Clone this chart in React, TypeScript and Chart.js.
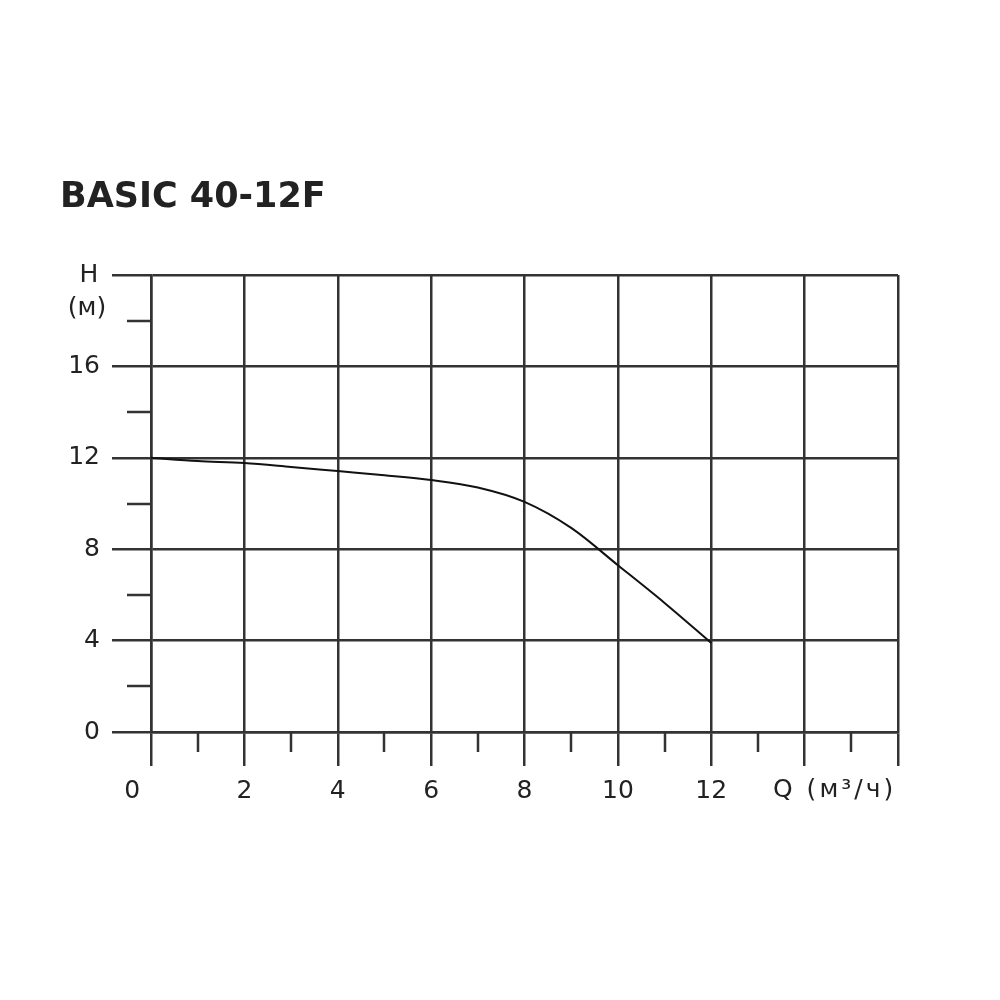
import React, { useEffect, useRef } from "react";
import { Chart, registerables } from "chart.js";

Chart.register(...registerables);

const titleText = "BASIC 40-12F";
const flowQ = [0, 1, 2, 3, 4, 5, 6, 7, 8, 9, 10, 11, 12];
const headH = [12.0, 11.86, 11.77, 11.6, 11.42, 11.24, 11.03, 10.7, 10.07, 8.93, 7.3, 5.65, 3.9];
const xLabelValues = [0, 2, 4, 6, 8, 10, 12];
const yLabelValues = [0, 4, 8, 12, 16];
const xMinorTicks = [1, 3, 5, 7, 9, 11, 13, 15];
const yMinorTicks = [2, 6, 10, 14, 18];
const yAxisTitle = ["H", "(м)"];
const xAxisTitle = "Q (м³/ч)";

const LINE = "#333333";
const TEXT = "#222222";
const CLEAR = "rgba(0,0,0,0)";
const FONT = "'DejaVu Sans', Verdana, sans-serif";

const extrasPlugin = {
  id: "extras",
  afterDraw(chart: any) {
    const { ctx, scales } = chart;
    const x = scales.x;
    const y = scales.y;
    ctx.save();
    ctx.strokeStyle = LINE;
    ctx.lineWidth = 2.5;
    ctx.beginPath();
    for (const v of xMinorTicks) {
      const px = Math.round(x.getPixelForValue(v));
      ctx.moveTo(px, y.bottom);
      ctx.lineTo(px, y.bottom + 20);
    }
    for (const v of yMinorTicks) {
      const py = Math.round(y.getPixelForValue(v));
      ctx.moveTo(x.left - 24, py);
      ctx.lineTo(x.left, py);
    }
    ctx.stroke();

    ctx.fillStyle = TEXT;
    ctx.font = `bold 35px ${FONT}`;
    ctx.textAlign = "left";
    ctx.textBaseline = "alphabetic";
    ctx.fillText(titleText, 60, 207);

    ctx.font = `25px ${FONT}`;
    ctx.textAlign = "center";
    ctx.textBaseline = "middle";
    const topPx = y.getPixelForValue(20);
    ctx.fillText(yAxisTitle[0], 89, topPx);
    ctx.fillText(yAxisTitle[1], 87, topPx + 33);

    ctx.textAlign = "left";
    (ctx as any).letterSpacing = "3px";
    ctx.fillText(xAxisTitle, 773, 790);
    ctx.restore();
  },
};

export default function App() {
  const ref = useRef<HTMLCanvasElement | null>(null);
  useEffect(() => {
    if (!ref.current) return;
    const chart = new Chart(ref.current, {
      type: "line",
      data: {
        datasets: [
          {
            data: flowQ.map((q, i) => ({ x: q, y: headH[i] })),
            borderColor: "#111111",
            borderWidth: 2,
            pointRadius: 0,
            cubicInterpolationMode: "monotone",
            fill: false,
          },
        ],
      },
      options: {
        animation: false,
        responsive: false,
        maintainAspectRatio: false,
        layout: { padding: { left: 0, right: 102, top: 275, bottom: 0 } },
        plugins: { legend: { display: false }, tooltip: { enabled: false }, title: { display: false } },
        scales: {
          x: {
            type: "linear",
            min: 0,
            max: 16,
            afterFit: (s: any) => {
              s.height = 268;
            },
            border: { display: true, color: LINE, width: 2.5 },
            grid: {
              color: LINE,
              lineWidth: 2.5,
              tickLength: 34,
              tickColor: LINE,
            },
            ticks: {
              stepSize: 2,
              autoSkip: false,
              maxRotation: 0,
              padding: 10,
              color: TEXT,
              font: { family: FONT, size: 25 },
              callback: (v: any) => {
                const n = Number(v);
                if (!xLabelValues.includes(n)) return "";
                return n === 0 ? "0\u2002\u2002\u2002" : String(n);
              },
            },
          },
          y: {
            type: "linear",
            min: 0,
            max: 20,
            afterFit: (s: any) => {
              s.width = 151;
            },
            border: { display: true, color: LINE, width: 2.5 },
            grid: {
              color: (c: any) => (c.tick && c.tick.value % 4 === 0 ? LINE : CLEAR),
              lineWidth: 2.5,
              tickLength: 39,
              tickColor: (c: any) => (c.tick && c.tick.value % 4 === 0 ? LINE : CLEAR),
            },
            ticks: {
              stepSize: 2,
              autoSkip: false,
              padding: 12,
              color: TEXT,
              font: { family: FONT, size: 25 },
              callback: (v: any) => (yLabelValues.includes(Number(v)) ? String(v) : ""),
            },
          },
        },
      },
      plugins: [extrasPlugin],
    } as any);
    return () => chart.destroy();
  }, []);
  return (
    <div style={{ position: "absolute", left: 0, top: 0, width: 1000, height: 1000, background: "#fff" }}>
      <canvas ref={ref} width={1000} height={1000} style={{ width: 1000, height: 1000 }} />
    </div>
  );
}
